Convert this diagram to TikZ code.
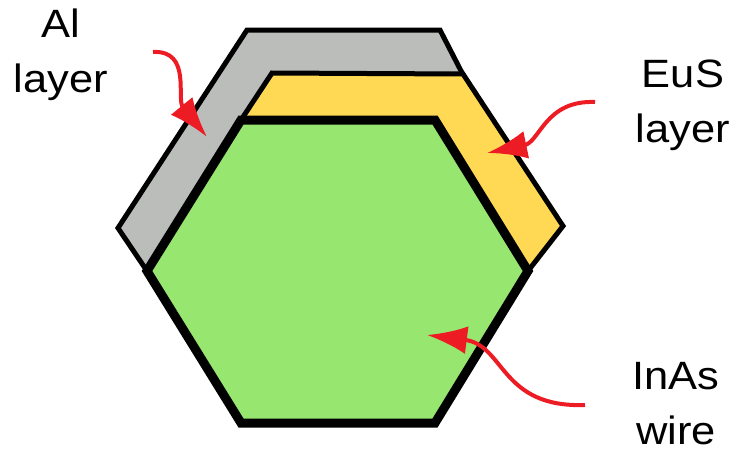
\documentclass[tikz,border=0pt]{standalone}
\usepackage{fontspec}
\setmainfont{Liberation Sans}[FakeStretch=1.1]
\usepackage{tikz}
\usetikzlibrary{arrows.meta}

\definecolor{alcol}{RGB}{187,189,186}
\definecolor{euscol}{RGB}{255,217,84}
\definecolor{inascol}{RGB}{150,230,112}
\definecolor{pointred}{RGB}{237,28,36}

\begin{document}
\begin{tikzpicture}[
        x=1pt, y=-1pt,
        layer/.style={draw=black, line width=5pt},
        wire/.style={draw=black, line width=9pt, fill=inascol},
        pointer/.style={pointred, line width=4pt, -{Latex[length=40pt, width=28pt]}},
        lbl/.style={align=center, anchor=north, inner sep=0pt, font=\fontsize{39.5}{55}\selectfont}
    ]
    \useasboundingbox (0,0) rectangle (738,453);

    % Layers
    \filldraw[layer, fill=alcol] (147,271) -- (118,228) -- (247,30) -- (440,30) -- (476,100) -- (300,100) -- cycle;
    \filldraw[layer, fill=euscol] (241,120) -- (272,73) -- (463,74) -- (563,226) -- (528,271) -- cycle;
    \filldraw[wire] (147,271) -- (241,120) -- (435,120) -- (528,271) -- (435,423) -- (241,423) -- cycle;

    % Labels
    \node[lbl] (allbl) at (61,9) {Al\\layer};
    \node[lbl] (euslbl) at (683,60) {EuS\\layer};
    \node[lbl] (inaslbl) at (676,362) {InAs\\wire};

    % Arrows
    \coordinate (alstart) at (153,52);
    \coordinate (altip) at (207,137);
    \coordinate (eusstart) at (595,102);
    \coordinate (eustip) at (487,153);
    \coordinate (inasstart) at (585,405);
    \coordinate (inastip) at (427,335);

    \draw[pointer] (alstart) .. controls (192,50) and (176,99) .. (altip);
    \draw[pointer] (eusstart) .. controls (545,100) and (540,142) .. (eustip);
    \draw[pointer] (inasstart) .. controls (500,408) and (505,345) .. (inastip);

\end{tikzpicture}
\end{document}
